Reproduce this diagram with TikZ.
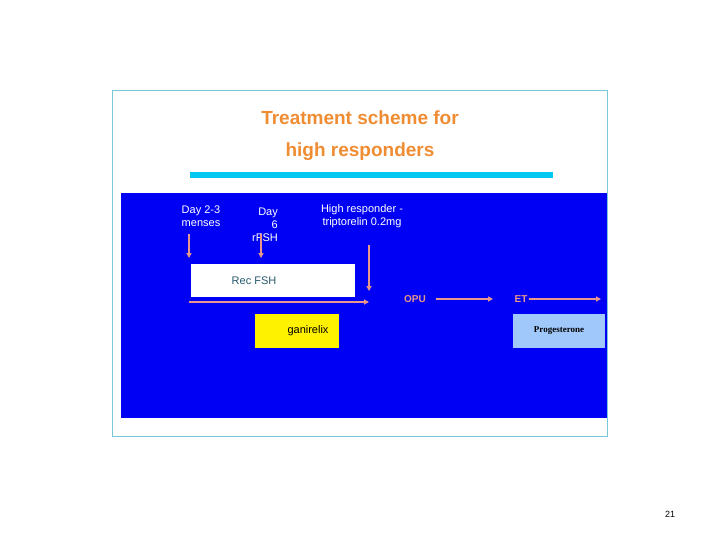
\documentclass[tikz,border=0pt]{standalone}
\usepackage{fontspec}
\setmainfont{Liberation Sans}
\newfontfamily\serifx{Liberation Serif}
\usetikzlibrary{positioning,arrows.meta}
\definecolor{frameblue}{RGB}{120,200,220}
\definecolor{bgblue}{RGB}{0,0,245}
\definecolor{salmon}{RGB}{232,150,140}
\definecolor{titleorange}{RGB}{240,140,50}
\definecolor{barcyan}{RGB}{0,200,240}
\definecolor{progblue}{RGB}{160,200,250}
\definecolor{recteal}{RGB}{40,90,110}
\tikzset{
  lbl/.style={text=white,font=\fontsize{11}{13}\selectfont,align=center,inner sep=0pt},
  stage/.style={text=salmon,font=\bfseries\fontsize{10}{12}\selectfont,inner sep=1pt},
  flow/.style={draw=salmon,line width=1.2pt,-{Triangle[length=5pt,width=5pt]}},
  box/.style={draw=none,inner sep=0pt,anchor=north west}
}
\begin{document}
\begin{tikzpicture}[x=1pt,y=-1pt]
%
\useasboundingbox (0,0) rectangle (720,540);
\fill[white] (0,0) rectangle (720,540);
%
\draw[frameblue,line width=0.8pt] (112,90) rectangle (607,436);
\node[text=titleorange,font=\bfseries\fontsize{19}{32}\selectfont,align=center] (title) at (360,136) {Treatment scheme for\\high responders};
\draw[barcyan,line width=6pt] (190,175) -- (553,175);
\fill[bgblue] (121,193) rectangle (607,418);
%
\node[lbl] (day23) at (201,216) {Day 2-3\\menses};
\node[lbl,align=right] (day6) at (265,225) {Day\\6\\rFSH};
\node[lbl] (high) at (362,216) {High responder -\\triptorelin 0.2mg};
%
\node[box,fill=white,minimum width=164,minimum height=33] (rec) at (191,264) {};
\node[text=recteal,font=\fontsize{11}{13}\selectfont] (reclbl) at (254,281) {Rec FSH};
\node[box,fill=yellow,minimum width=84,minimum height=34] (gan) at (255,314) {};
\node[font=\fontsize{11}{13}\selectfont] (ganlbl) at (308,331) {ganirelix};
\node[box,fill=progblue,minimum width=92,minimum height=34] (prog) at (513,314) {};
\node[font=\serifx\bfseries\fontsize{9}{11}\selectfont] (proglbl) at (559,331) {Progesterone};
%
\coordinate (a1) at (189,234); \coordinate (a1e) at (189,258);
\coordinate (a2) at (261,234); \coordinate (a2e) at (261,258);
\coordinate (a3) at (369,245); \coordinate (a3e) at (369,291);
\coordinate (s) at (189,302); \coordinate (se) at (369,302);
\draw[flow] (a1) -- (a1e);
\draw[flow] (a2) -- (a2e);
\draw[flow] (a3) -- (a3e);
\draw[flow] (s) -- (se);
%
\node[stage] (opu) at (415,299) {OPU};
\node[stage] (et) at (521,299) {ET};
\coordinate (opuarr) at (436,299); \coordinate (etarr) at (493,299);
\coordinate (end) at (601,299);
\draw[flow] (opuarr) -- (etarr);
\draw[flow] (et.east) -- (end);
%
\node[font=\fontsize{9}{11}\selectfont] (page) at (670,514) {21};
\end{tikzpicture}
\end{document}
